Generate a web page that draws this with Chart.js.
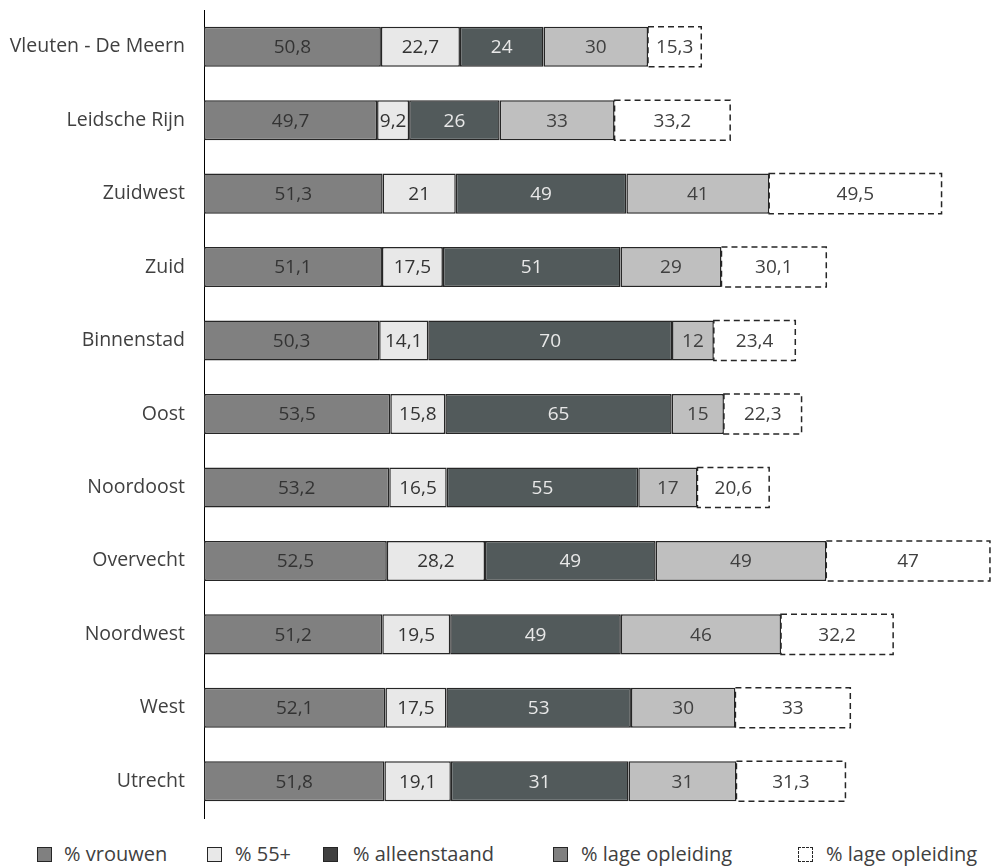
<!DOCTYPE html>
<html>
<head>
<meta charset="utf-8">
<script src="https://cdn.jsdelivr.net/npm/chart.js@4"></script>
<style>
  html, body { margin: 0; padding: 0; background: #fff; }
  #wrap { position: relative; width: 992px; height: 867px; }
  #chartBox { position: absolute; left: 0; top: 0; width: 992px; height: 828px; }
  .lg { position: absolute; top: 842px; height: 24px; font-family: "Open Sans", sans-serif; font-size: 20px; color: #404040; white-space: nowrap; line-height: 24px; }
  .sw { position: absolute; top: 5px; width: 13px; height: 13px; border: 1px solid #262626; box-sizing: content-box; }
  .tx { position: absolute; top: 0; }
</style>
</head>
<body>
<div id="wrap">
  <div id="chartBox"><canvas id="c"></canvas></div>
  <div class="lg" style="left:37px"><span class="sw" style="left:0;background:#808080"></span><span class="tx" style="left:27px">% vrouwen</span></div>
  <div class="lg" style="left:207px"><span class="sw" style="left:0;background:#e8e8e8"></span><span class="tx" style="left:28px">% 55+</span></div>
  <div class="lg" style="left:323px"><span class="sw" style="left:0;background:#404040"></span><span class="tx" style="left:30px">% alleenstaand</span></div>
  <div class="lg" style="left:553px"><span class="sw" style="left:0;background:#808080"></span><span class="tx" style="left:28px">% lage opleiding</span></div>
  <div class="lg" style="left:798px"><span class="sw" style="left:0;background:#fff;border:1px dashed #262626"></span><span class="tx" style="left:28px">% lage opleiding</span></div>
</div>
<script>
const categories = ["Vleuten - De Meern","Leidsche Rijn","Zuidwest","Zuid","Binnenstad","Oost","Noordoost","Overvecht","Noordwest","West","Utrecht"];
const vrouwen      = [50.8, 49.7, 51.3, 51.1, 50.3, 53.5, 53.2, 52.5, 51.2, 52.1, 51.8];
const ouder55      = [22.7,  9.2, 21.0, 17.5, 14.1, 15.8, 16.5, 28.2, 19.5, 17.5, 19.1];
const alleenstaand = [24,   26,   49,   51,   70,   65,   55,   49,   49,   53,   51];
const alleenstaandText = ["24","26","49","51","70","65","55","49","49","53","31"];
const lageOpl1     = [30,   33,   41,   29,   12,   15,   17,   49,   46,   30,   31];
const lageOpl2     = [15.3, 33.2, 49.5, 30.1, 23.4, 22.3, 20.6, 47,   32.2, 33,   31.3];
const seriesNames  = ["% vrouwen","% 55+","% alleenstaand","% lage opleiding","% lage opleiding"];

const fmt = v => String(v).replace('.', ',');

const valueLabels = {
  id: 'valueLabels',
  afterDatasetsDraw(chart) {
    const ctx = chart.ctx;
    ctx.save();
    chart.data.datasets.forEach((ds, i) => {
      const meta = chart.getDatasetMeta(i);
      meta.data.forEach((el, j) => {
        const p = el.getProps(['x', 'base', 'y', 'height'], true);
        if (ds.dashed) {
          ctx.save();
          ctx.setLineDash([6, 4]);
          ctx.lineWidth = 1.5;
          ctx.strokeStyle = '#262626';
          ctx.strokeRect(p.base, p.y - p.height / 2, p.x - p.base, p.height);
          ctx.restore();
        }
        ctx.font = '19px "Open Sans", sans-serif';
        ctx.textAlign = 'center';
        ctx.textBaseline = 'middle';
        ctx.fillStyle = ds.labelColor;
        const txt = ds.texts ? ds.texts[j] : fmt(ds.data[j]);
        ctx.fillText(txt, (p.x + p.base) / 2, p.y + 1);
      });
    });
    ctx.restore();
  }
};

const fills = ['#808080', '#e8e8e8', '#525a5b', '#bfbfbf', '#ffffff'];
const labelColors = ['#333333', '#333333', '#e8e8e8', '#404040', '#404040'];
const dataArr = [vrouwen, ouder55, alleenstaand, lageOpl1, lageOpl2];

new Chart(document.getElementById('c'), {
  type: 'bar',
  data: {
    labels: categories,
    datasets: dataArr.map((d, i) => ({
      label: seriesNames[i],
      data: d,
      texts: i === 2 ? alleenstaandText : null,
      backgroundColor: fills[i],
      borderColor: '#262626',
      borderWidth: i === 4 ? 0 : 1.5,
      borderSkipped: false,
      dashed: i === 4,
      labelColor: labelColors[i],
      barPercentage: 0.545,
      categoryPercentage: 1
    }))
  },
  options: {
    indexAxis: 'y',
    responsive: true,
    maintainAspectRatio: false,
    animation: false,
    layout: { padding: { top: 10, bottom: 10, right: 1, left: 0 } },
    plugins: { legend: { display: false }, tooltip: { enabled: false } },
    scales: {
      x: { stacked: true, display: false, min: 0, max: 226 },
      y: {
        stacked: true,
        grid: { display: false, drawTicks: false },
        border: { display: true, color: '#000', width: 1 },
        ticks: { padding: 19, color: '#404040', font: { family: '"Open Sans", sans-serif', size: 19.5 } },
        afterFit(s) { s.width = 204; s.paddingTop = 0; s.paddingBottom = 0; }
      }
    }
  },
  plugins: [valueLabels]
});
</script>
</body>
</html>
